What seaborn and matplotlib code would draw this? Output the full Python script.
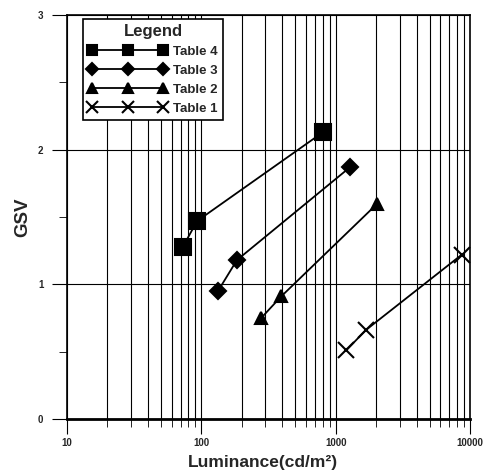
import numpy as np
import pandas as pd
import seaborn as sns
import matplotlib.pyplot as plt
import matplotlib.ticker as ticker

tables = ["Table 4", "Table 3", "Table 2", "Table 1"]
lum_t4 = [73, 93, 805]
gsv_t4 = [1.28, 1.47, 2.13]
lum_t3 = [133, 184, 1280]
gsv_t3 = [0.95, 1.18, 1.87]
lum_t2 = [279, 393, 2045]
gsv_t2 = [0.75, 0.91, 1.60]
lum_t1 = [1200, 1675, 8670]
gsv_t1 = [0.51, 0.66, 1.22]

df = pd.concat([
    pd.DataFrame({"Luminance": lum_t4, "GSV": gsv_t4, "Table": "Table 4"}),
    pd.DataFrame({"Luminance": lum_t3, "GSV": gsv_t3, "Table": "Table 3"}),
    pd.DataFrame({"Luminance": lum_t2, "GSV": gsv_t2, "Table": "Table 2"}),
    pd.DataFrame({"Luminance": lum_t1, "GSV": gsv_t1, "Table": "Table 1"}),
])

sns.set_style("white")
plt.rcParams['font.family'] = ['Liberation Sans', 'DejaVu Sans']
plt.rcParams['font.weight'] = 'bold'

fig = plt.figure(figsize=(4.85, 4.73), dpi=100)
ax = fig.add_axes([67/485, 1-419/473, (470-67)/485, (419-15)/473])

markers = {"Table 4": "s", "Table 3": "D", "Table 2": "^", "Table 1": "x"}
sizes = {"Table 4": 11, "Table 3": 8, "Table 2": 9, "Table 1": 11}
leg_sizes = {"Table 4": 7, "Table 3": 6, "Table 2": 6.5, "Table 1": 8}
for t in tables:
    sub = df[df["Table"] == t]
    sns.lineplot(data=sub, x="Luminance", y="GSV", ax=ax, color="black",
                 marker=markers[t], markersize=sizes[t], markeredgewidth=1.5,
                 markeredgecolor="black", linewidth=1.3, label=t, sort=False)

ax.set_xscale("log")
ax.set_xlim(10, 10000)
ax.set_ylim(0, 3)
ax.xaxis.set_major_locator(ticker.LogLocator(base=10))
ax.xaxis.set_minor_locator(ticker.LogLocator(base=10, subs=np.arange(2, 10)))
ax.xaxis.set_major_formatter(ticker.FormatStrFormatter("%d"))
ax.xaxis.set_minor_formatter(ticker.NullFormatter())
ax.yaxis.set_major_locator(ticker.MultipleLocator(1))
ax.yaxis.set_minor_locator(ticker.MultipleLocator(0.5))

ax.grid(True, which="major", axis="both", color="black", linewidth=0.8)
ax.grid(True, which="minor", axis="x", color="black", linewidth=0.8)
ax.tick_params(which="both", direction="out", color="black", bottom=True, left=True)
ax.tick_params(which="major", length=11, labelsize=7, pad=6)
ax.tick_params(axis="x", which="major", pad=3)
ax.tick_params(which="minor", length=6)
for s in ax.spines.values():
    s.set_color("black")
    s.set_linewidth(1.2)
ax.spines["bottom"].set_linewidth(2)

ax.set_xlabel("Luminance(cd/m²)", fontsize=12.5, fontweight="bold")
ax.xaxis.set_label_coords((263 - 67) / 403, (419 - 455) / 404)
ax.set_ylabel("GSV", fontsize=13.5, fontweight="bold", labelpad=5)

h, l = ax.get_legend_handles_labels()
leg = ax.legend(h, l, title="Legend", loc="upper left", numpoints=3,
                bbox_to_anchor=(16/403, 1 - 4/404), frameon=True, fancybox=False,
                edgecolor="black", framealpha=1, fontsize=9.5,
                title_fontproperties={"weight": "bold", "size": 12},
                handlelength=6.0, handletextpad=0.45, labelspacing=0.5,
                borderpad=0.4, borderaxespad=0)
leg.get_frame().set_linewidth(1.2)
for hd, t in zip(leg.legend_handles, l):
    hd.set_markersize(leg_sizes[t])

plt.savefig("out.png", dpi=100)
